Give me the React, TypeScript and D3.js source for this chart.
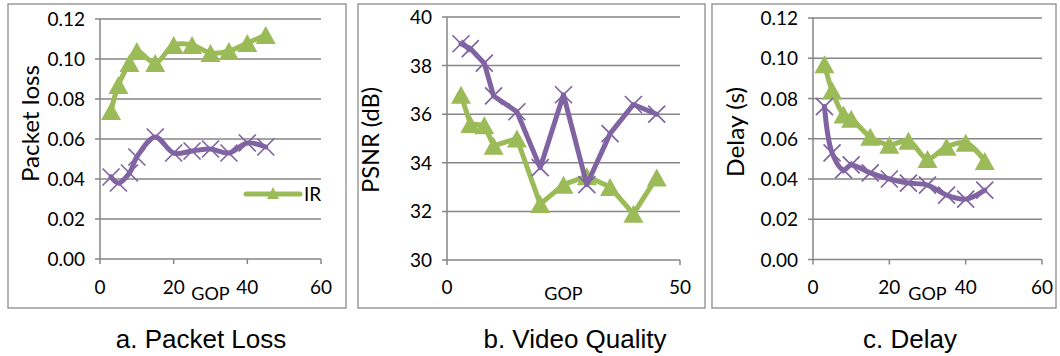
import React from "react";
import * as d3 from "d3";

// ---------- data ----------
const gop = [3, 5, 8, 10, 15, 20, 25, 30, 35, 40, 45];

const lossIR = [0.074, 0.087, 0.098, 0.104, 0.098, 0.107, 0.107, 0.103, 0.104, 0.108, 0.112];
const lossOther = [0.041, 0.038, 0.043, 0.051, 0.061, 0.053, 0.054, 0.055, 0.053, 0.058, 0.056];

const psnrIR = [36.8, 35.6, 35.55, 34.7, 35.0, 32.3, 33.1, 33.45, 33.0, 31.9, 33.4];
const psnrOther = [38.9, 38.7, 38.1, 36.75, 36.1, 33.8, 36.8, 33.1, 35.2, 36.4, 36.0];

const delayIR = [0.097, 0.084, 0.072, 0.070, 0.061, 0.057, 0.059, 0.050, 0.056, 0.058, 0.049];
const delayOther = [0.076, 0.053, 0.0445, 0.047, 0.043, 0.040, 0.038, 0.037, 0.032, 0.030, 0.0345];

const lossYTicks = [0, 0.02, 0.04, 0.06, 0.08, 0.1, 0.12];
const lossXTicks = [0, 20, 40, 60];
const psnrYTicks = [30, 32, 34, 36, 38, 40];
const psnrXTicks = [0, 50];
const delayYTicks = [0, 0.02, 0.04, 0.06, 0.08, 0.1, 0.12];
const delayXTicks = [0, 20, 40, 60];

const captions = ["a. Packet Loss", "b. Video Quality", "c. Delay"];
const yTitles = ["Packet loss", "PSNR (dB)", "Delay (s)"];
const xTitle = "GOP";
const legendLabel = "IR";

// ---------- styles ----------
const GREEN = "#9BBB59";
const PURPLE = "#8064A2";
const GRID = "#868686";
const FRAME = "#9a9a9a";
const TICK_FONT = "Lato, 'Liberation Sans', Arial, sans-serif";
const CAP_FONT = "'Liberation Sans', Arial, sans-serif";

type PanelCfg = {
  frame: [number, number, number, number];
  plot: { x0: number; x1: number; y0: number; y1: number };
  xDomain: [number, number];
  yDomain: [number, number];
  xTicks: number[];
  yTicks: number[];
  yFmt: (v: number) => string;
  ir: number[];
  other: number[];
  smooth: boolean;
  yTitle: string;
  yTitlePos: { x: number; y: number; len: number };
  caption: string;
  captionX: number;
  legend?: { x0: number; x1: number; y: number };
};

const Triangle = ({ x, y, w, h, fill }: { x: number; y: number; w: number; h: number; fill: string }) => (
  <path
    d={`M${x},${y - h / 2}L${x + w / 2},${y + h / 2}L${x - w / 2},${y + h / 2}Z`}
    fill={fill}
  />
);

const Cross = ({ x, y, s, stroke }: { x: number; y: number; s: number; stroke: string }) => (
  <path
    d={`M${x - s / 2},${y - s / 2}L${x + s / 2},${y + s / 2}M${x - s / 2},${y + s / 2}L${x + s / 2},${y - s / 2}`}
    stroke={stroke}
    strokeWidth={1.7}
    fill="none"
  />
);

const Panel = ({ c }: { c: PanelCfg }) => {
  const xs = d3.scaleLinear().domain(c.xDomain).range([c.plot.x0, c.plot.x1]);
  const ys = d3.scaleLinear().domain(c.yDomain).range([c.plot.y1, c.plot.y0]);
  const curve = c.smooth ? d3.curveCatmullRom : d3.curveLinear;
  const line = d3
    .line<number>()
    .x((_, i) => xs(gop[i]))
    .y((d) => ys(d))
    .curve(curve);
  const [fx, fy, fw, fh] = c.frame;
  const yBase = ys(c.yDomain[0]);
  return (
    <g>
      <rect x={fx} y={fy} width={fw} height={fh} fill="white" stroke={FRAME} strokeWidth={1.5} />
      {c.yTicks.map((t) => (
        <line key={"g" + t} x1={xs(c.xDomain[0]) - 5} x2={c.plot.x1} y1={ys(t)} y2={ys(t)} stroke={GRID} strokeWidth={1.5} />
      ))}
      <line x1={c.plot.x0} x2={c.plot.x0} y1={c.plot.y0} y2={yBase} stroke={GRID} strokeWidth={1.5} />
      {c.xTicks.map((t) => (
        <line key={"xt" + t} x1={xs(t)} x2={xs(t)} y1={yBase} y2={yBase + 5} stroke={GRID} strokeWidth={1.5} />
      ))}
      {c.yTicks.map((t) => (
        <text key={"yl" + t} x={c.plot.x0 - 15} y={ys(t) + 7} textAnchor="end" fontFamily={TICK_FONT} fontSize={19} fill="#000">
          {c.yFmt(t)}
        </text>
      ))}
      {c.xTicks.map((t) => (
        <text key={"xl" + t} x={xs(t)} y={294} textAnchor="middle" fontFamily={TICK_FONT} fontSize={19} fill="#000">
          {String(t)}
        </text>
      ))}
      <text x={(c.plot.x0 + c.plot.x1) / 2} y={300} textAnchor="middle" fontFamily={TICK_FONT} fontSize={18} fill="#000">
        {xTitle}
      </text>
      <text
        transform={`translate(${c.yTitlePos.x},${c.yTitlePos.y}) rotate(-90)`}
        textAnchor="middle"
        fontFamily={TICK_FONT}
        fontSize={23}
        textLength={c.yTitlePos.len}
        lengthAdjust="spacingAndGlyphs"
        fill="#000"
      >
        {c.yTitle}
      </text>
      <path d={line(c.ir) || ""} fill="none" stroke={GREEN} strokeWidth={5} strokeLinejoin="round" strokeLinecap="round" />
      {c.ir.map((v, i) => (
        <Triangle key={"t" + i} x={xs(gop[i])} y={ys(v)} w={20} h={18} fill={GREEN} />
      ))}
      <path d={line(c.other) || ""} fill="none" stroke={PURPLE} strokeWidth={5} strokeLinejoin="round" strokeLinecap="round" />
      {c.other.map((v, i) => (
        <Cross key={"x" + i} x={xs(gop[i])} y={ys(v)} s={17} stroke={PURPLE} />
      ))}
      {c.legend && (
        <g>
          <line x1={c.legend.x0} x2={c.legend.x1} y1={c.legend.y} y2={c.legend.y} stroke={GREEN} strokeWidth={5} strokeLinecap="round" />
          <Triangle x={(c.legend.x0 + c.legend.x1) / 2} y={c.legend.y - 1} w={12} h={12} fill={GREEN} />
          <text x={c.legend.x1 + 4} y={c.legend.y + 7} fontFamily={TICK_FONT} fontSize={19} fill="#000">
            {legendLabel}
          </text>
        </g>
      )}
      <text x={c.captionX} y={348} textAnchor="middle" fontFamily={CAP_FONT} fontSize={26} fill="#000">
        {c.caption}
      </text>
    </g>
  );
};

const f2 = d3.format(".2f");
const f0 = d3.format("d");

const panels: PanelCfg[] = [
  {
    frame: [8, 4, 338, 304],
    plot: { x0: 100, x1: 321, y0: 19, y1: 259 },
    xDomain: [0, 60],
    yDomain: [0, 0.12],
    xTicks: lossXTicks,
    yTicks: lossYTicks,
    yFmt: f2,
    ir: lossIR,
    other: lossOther,
    smooth: true,
    yTitle: yTitles[0],
    yTitlePos: { x: 39, y: 123.5, len: 117 },
    caption: captions[0],
    captionX: 201,
    legend: { x0: 246, x1: 300, y: 194 },
  },
  {
    frame: [358, 4, 347, 304],
    plot: { x0: 447, x1: 680, y0: 17, y1: 260 },
    xDomain: [0, 50],
    yDomain: [30, 40],
    xTicks: psnrXTicks,
    yTicks: psnrYTicks,
    yFmt: f0,
    ir: psnrIR,
    other: psnrOther,
    smooth: false,
    yTitle: yTitles[1],
    yTitlePos: { x: 379, y: 140, len: 106 },
    caption: captions[1],
    captionX: 575,
  },
  {
    frame: [712, 4, 344, 304],
    plot: { x0: 813, x1: 1042, y0: 18, y1: 259.5 },
    xDomain: [0, 60],
    yDomain: [0, 0.12],
    xTicks: delayXTicks,
    yTicks: delayYTicks,
    yFmt: f2,
    ir: delayIR,
    other: delayOther,
    smooth: true,
    yTitle: yTitles[2],
    yTitlePos: { x: 744, y: 132, len: 90 },
    caption: captions[2],
    captionX: 910,
  },
];

export default function App() {
  return (
    <svg
      width={1060}
      height={356}
      viewBox="0 0 1060 356"
      style={{ position: "absolute", left: 0, top: 0, background: "white" }}
    >
      <rect x={0} y={0} width={1060} height={356} fill="white" />
      {panels.map((p, i) => (
        <Panel key={i} c={p} />
      ))}
    </svg>
  );
}
